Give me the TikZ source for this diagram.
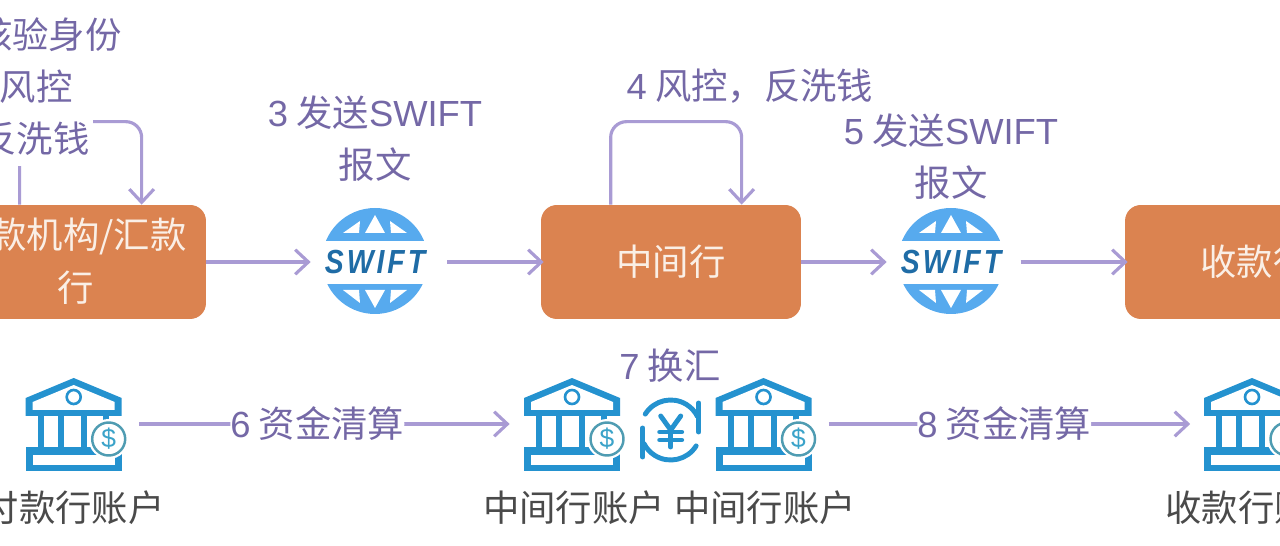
\documentclass[tikz,border=0pt]{standalone}
\usepackage{fontspec}
\setmainfont{Noto Sans CJK SC}
\newfontfamily\latinfont{Liberation Sans}
\newfontfamily\swiftfont[LetterSpace=9,FakeStretch=0.85]{Liberation Sans}
\usetikzlibrary{arrows.meta}
\definecolor{flowline}{HTML}{A99BD4}
\definecolor{steptext}{HTML}{7468A6}
\definecolor{boxfill}{HTML}{DB8350}
\definecolor{boxtext}{HTML}{FAEFE6}
\definecolor{accttext}{HTML}{4A4A4A}
\definecolor{bankblue}{HTML}{2492CF}
\definecolor{coinring}{HTML}{4F9CB2}
\definecolor{coinsign}{HTML}{3BA3C9}
\definecolor{globeblue}{HTML}{57AAEE}
\definecolor{swifttext}{HTML}{1F6CA6}
\newcommand{\lat}[1]{{\latinfont #1}}
\tikzset{
  x=0.02cm, y=-0.02cm,
  every node/.style={font=\fontsize{20.7}{29.5}\selectfont, inner sep=0pt},
  flow/.style={draw=flowline, line width=1.8pt, rounded corners=9pt,
    -{Straight Barb[length=7.5pt,width=14pt,line width=1.8pt]}},
  bankbox/.style={fill=boxfill, rounded corners=9pt, minimum width=5.2cm, minimum height=2.28cm},
  boxlabel/.style={text=boxtext},
  steplabel/.style={text=steptext, align=center},
  acctlabel/.style={text=accttext},
  swiftnode/.style={minimum width=2.56cm, minimum height=2.1cm,
    text=swifttext, font=\swiftfont\bfseries\itshape\fontsize{19}{19}\selectfont},
  acctnode/.style={minimum width=2.6cm, minimum height=1.9cm},
  bankicon/.pic={
    \fill[bankblue] (-48,20) -- (0,0) -- (48,20) -- (48,38) -- (-48,38) -- cycle;
    \fill[white] (-41,32) -- (-41,24) -- (0,7) -- (41,24) -- (41,32) -- cycle;
    \draw[bankblue, line width=1.5pt, fill=white] (0,19) circle (7);
    \fill[bankblue] (-36,38) rectangle (-30,70);
    \fill[bankblue] (-16,38) rectangle (-10,70);
    \fill[bankblue] (7,38) rectangle (13,70);
    \fill[bankblue] (29,38) rectangle (35,70);
    \fill[bankblue] (-48,69) rectangle (48,93);
    \fill[white] (-41,77) rectangle (41,87);
    \fill[white] (35,61) circle (20);
    \draw[coinring, line width=1.4pt] (35,61) circle (16.5);
    \node[text=coinsign, font=\latinfont\fontsize{15}{15}\selectfont] (-dollar) at (35,61) {\$};
  },
  globeicon/.pic={
    \begin{scope}
      \clip (0,0) circle (53);
      \fill[globeblue] (-60,-60) rectangle (60,-20);
      \fill[globeblue] (-60,23) rectangle (60,60);
    \end{scope}
    \fill[white] (0,-46) -- (10,-28) -- (-10,-28) -- cycle;
    \fill[white] (-32,-28) -- (-16,-28) -- (-15,-40) -- cycle;
    \fill[white] (32,-28) -- (16,-28) -- (15,-40) -- cycle;
    \fill[white] (0,47) -- (10,29) -- (-10,29) -- cycle;
    \fill[white] (-32,29) -- (-16,29) -- (-15,42) -- cycle;
    \fill[white] (32,29) -- (16,29) -- (15,42) -- cycle;
  },
  yenicon/.pic={
    \begin{scope}[bankblue, line width=2.8pt, line cap=round]
      \draw (0,0) ++(212:30) arc (212:333:30);
      \draw (0,0) ++(32:30) arc (32:153:30);
      \draw (28,-27) -- (28,2);
      \draw (-28,-2) -- (-28,27);
      \draw (-10,-14) -- (0,0) -- (10,-14);
      \draw (0,0) -- (0,17);
      \draw (-11,2) -- (11,2);
      \draw (-11,10) -- (11,10);
    \end{scope}
  },
}
\begin{document}
\begin{tikzpicture}
  \useasboundingbox (0,0) rectangle (1280,546);
  \clip (0,0) rectangle (1280,546);
  % top row
  \node[bankbox] (payBank) at (76,262) {};
  \node[bankbox] (midBank) at (671,262) {};
  \node[bankbox] (recvBank) at (1255,262) {};
  \pic at (375,261) {globeicon};
  \pic at (951,261) {globeicon};
  \node[swiftnode] (swiftA) at (375,262) {SWIFT};
  \node[swiftnode] (swiftB) at (951,262) {SWIFT};
  \node[boxlabel, anchor=east] (payText) at (187,236) {款机构/汇款};
  \node[boxlabel] (payTextB) at (76,288) {行};
  \node[boxlabel] (midText) at (671,262) {中间行};
  \node[boxlabel] (recvText) at (1255,262) {收款行};
  \draw[flow] (payBank) -- (swiftA);
  \draw[flow, shorten <=4.5pt, shorten >=-1.7pt] (swiftA) -- (midBank);
  \draw[flow] (midBank) -- (swiftB);
  \draw[flow, shorten <=3pt, shorten >=-1.7pt] (swiftB) -- (recvBank);
  \draw[flow] ([xshift=1.48cm]payBank.north west) -- ++(0,-83) -| ([xshift=3.92cm]payBank.north west);
  \draw[flow] ([xshift=1.4cm]midBank.north west) -- ++(0,-83) -| ([xshift=4.02cm]midBank.north west);
  % step labels
  \node[steplabel, anchor=east] (checkA) at (122,35) {核验身份};
  \node[steplabel, anchor=east] (checkB) at (73,87) {风控};
  \node[steplabel, anchor=east, fill=white, minimum height=1.1cm, inner xsep=1.7pt] (checkC) at (93,139) {反洗钱};
  \node[steplabel] (sendA) at (375,139) {\lat{3} 发送\lat{SWIFT}\\报文};
  \node[steplabel] (riskB) at (750,86) {\lat{4} 风控，反洗钱};
  \node[steplabel] (sendB) at (951,157) {\lat{5} 发送\lat{SWIFT}\\报文};
  % bottom row
  \node[acctnode] (acctA) at (73.7,424) {};
  \node[acctnode] (acctB) at (572,424) {};
  \node[acctnode] (acctC) at (763.5,424) {};
  \node[acctnode] (acctD) at (1252,424) {};
  \pic (iconA) at (73.7,378) {bankicon};
  \pic (iconB) at (572,378) {bankicon};
  \pic (iconC) at (763.5,378) {bankicon};
  \pic (iconD) at (1252,378) {bankicon};
  \pic at (670.7,430) {yenicon};
  \draw[flow, shorten >=-1.7pt] (acctA.east) -- node[steplabel, fill=white, pos=.485] (clearA) {\lat{6} 资金清算} (acctB.west);
  \draw[flow, shorten >=-2pt] (acctC.east) -- node[steplabel, fill=white, pos=.49] (clearB) {\lat{8} 资金清算} (acctD.west);
  \node[steplabel] (fxText) at (670,366) {\lat{7} 换汇};
  \node[acctlabel, anchor=east] (nameA) at (165,508) {付款行账户};
  \node[acctlabel] (nameB) at (574,508) {中间行账户};
  \node[acctlabel] (nameC) at (765,508) {中间行账户};
  \node[acctlabel, anchor=west] (nameD) at (1165,508) {收款行账户};
\end{tikzpicture}
\end{document}
